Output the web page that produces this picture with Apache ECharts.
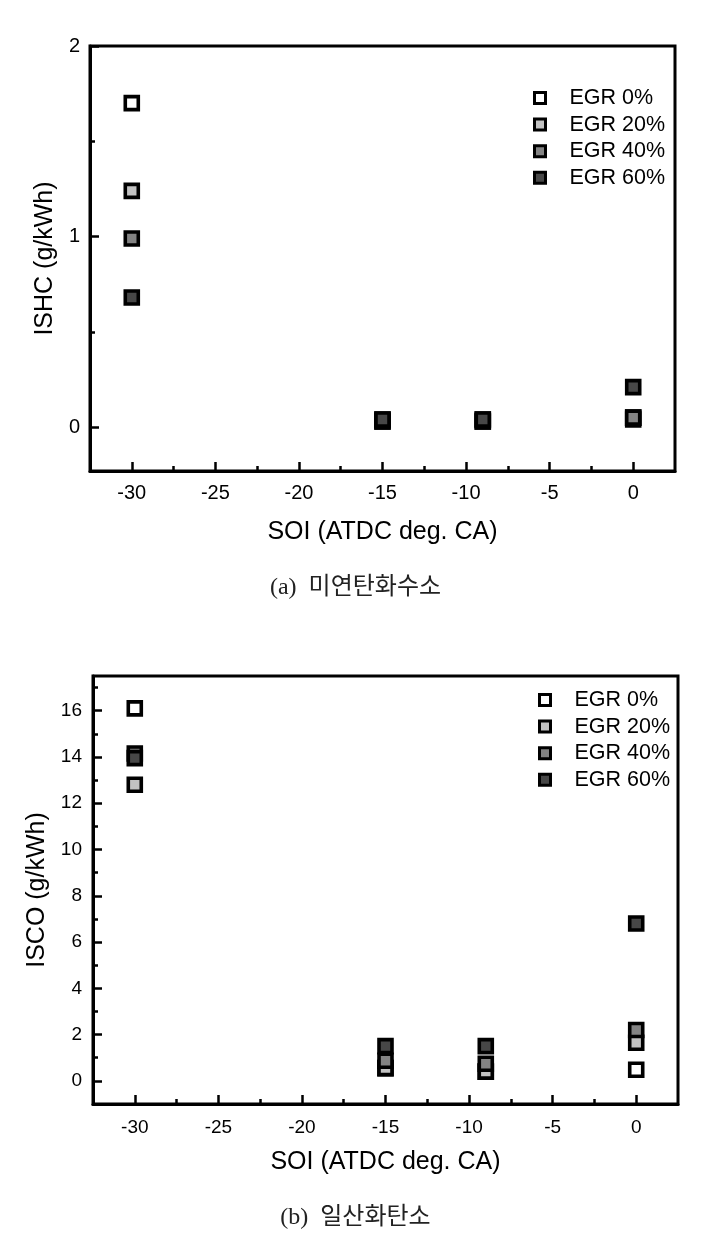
<!DOCTYPE html>
<html>
<head>
<meta charset="utf-8">
<script src="https://cdn.jsdelivr.net/npm/echarts@6/dist/echarts.min.js"></script>
<style>
html,body{margin:0;padding:0;background:#fff;}
#chart{width:711px;height:1244px;}
</style>
</head>
<body>
<div id="chart"></div>
<script>
// ---- data ----
const seriesNames = ['EGR 0%', 'EGR 20%', 'EGR 40%', 'EGR 60%'];
const soi = [-30, -15, -9, 0];
const hcEgr0  = [1.70, 0.03, 0.03, 0.04];
const hcEgr20 = [1.24, 0.03, 0.03, 0.05];
const hcEgr40 = [0.99, 0.04, 0.04, 0.05];
const hcEgr60 = [0.68, 0.04, 0.04, 0.21];
const coEgr0  = [16.1, 0.55, 0.40, 0.48];
const coEgr20 = [12.8, 0.55, 0.40, 1.65];
const coEgr40 = [14.15, 0.87, 0.74, 2.2];
const coEgr60 = [13.95, 1.5, 1.5, 6.8];
const xMajorTicks = [-30, -25, -20, -15, -10, -5, 0];
const xMinorTicks = [-27.5, -22.5, -17.5, -12.5, -7.5, -2.5];
const hcMajorTicks = [0, 1, 2];
const hcMinorTicks = [0.5, 1.5];
const coMajorTicks = [0, 2, 4, 6, 8, 10, 12, 14, 16];
const coMinorTicks = [1, 3, 5, 7, 9, 11, 13, 15, 17];

const fills = ['#ffffff', '#c2c2c2', '#838383', '#474747'];
const FONT = "'Liberation Sans', Arial, sans-serif";

const chart = echarts.init(document.getElementById('chart'), null, {renderer: 'canvas'});

function pairs(xs, ys) { return xs.map((x, i) => [x, ys[i]]); }

function xAxes(gridIndex, labelMargin, nameGap, fs) {
  return [
    {
      gridIndex, type: 'value', min: -32.5, max: 2.5, position: 'bottom',
      name: 'SOI (ATDC deg. CA)', nameLocation: 'middle', nameGap,
      nameTextStyle: {fontFamily: FONT, fontSize: 25, color: '#000'},
      axisLine: {show: true, onZero: false, lineStyle: {color: '#000', width: 3}},
      axisTick: {show: true, inside: true, length: 9, customValues: xMajorTicks, lineStyle: {color: '#000', width: 2.5}},
      axisLabel: {show: true, customValues: xMajorTicks, margin: labelMargin, fontFamily: FONT, fontSize: fs, color: '#000'},
      splitLine: {show: false}
    },
    {
      gridIndex, type: 'value', min: -32.5, max: 2.5, position: 'bottom', offset: 0,
      axisLine: {show: false, onZero: false},
      axisTick: {show: true, inside: true, length: 5, customValues: xMinorTicks, lineStyle: {color: '#000', width: 2.5}},
      axisLabel: {show: false},
      splitLine: {show: false}
    }
  ];
}

function yAxes(gridIndex, min, max, major, minor, name, nameGap, labelMargin, fs) {
  return [
    {
      gridIndex, type: 'value', min, max, position: 'left',
      name, nameLocation: 'middle', nameGap,
      nameTextStyle: {fontFamily: FONT, fontSize: 25, color: '#000'},
      axisLine: {show: true, onZero: false, lineStyle: {color: '#000', width: 3}},
      axisTick: {show: true, inside: true, length: 9, customValues: major, lineStyle: {color: '#000', width: 2.5}},
      axisLabel: {show: true, customValues: major, margin: labelMargin, fontFamily: FONT, fontSize: fs, color: '#000'},
      splitLine: {show: false}
    },
    {
      gridIndex, type: 'value', min, max, position: 'left', offset: 0,
      axisLine: {show: false, onZero: false},
      axisTick: {show: true, inside: true, length: 5, customValues: minor, lineStyle: {color: '#000', width: 2.5}},
      axisLabel: {show: false},
      splitLine: {show: false}
    }
  ];
}

const hcData = [hcEgr0, hcEgr20, hcEgr40, hcEgr60];
const coData = [coEgr0, coEgr20, coEgr40, coEgr60];

const series = [];
hcData.forEach((ys, i) => {
  series.push({
    type: 'scatter', name: seriesNames[i], xAxisIndex: 0, yAxisIndex: 0,
    symbol: 'rect', symbolSize: 13, data: pairs(soi, ys),
    itemStyle: {color: fills[i], borderColor: '#000', borderWidth: 3.6, opacity: 1},
    emphasis: {disabled: true}
  });
});
coData.forEach((ys, i) => {
  series.push({
    type: 'scatter', name: seriesNames[i], xAxisIndex: 2, yAxisIndex: 2,
    symbol: 'rect', symbolSize: 13, data: pairs(soi, ys),
    itemStyle: {color: fills[i], borderColor: '#000', borderWidth: 3.6, opacity: 1},
    emphasis: {disabled: true}
  });
});

function legend(left, top) {
  return {
    orient: 'vertical', left, top,
    data: seriesNames, icon: 'rect', itemWidth: 11, itemHeight: 11, itemGap: 4.6,
    selectedMode: false,
    itemStyle: {borderColor: '#000', borderWidth: 3},
    textStyle: {fontFamily: FONT, fontSize: 21.5, color: '#000', lineHeight: 20.5, padding: [0, 0, 0, 19]}
  };
}

const CAPFONT = "'Liberation Serif', 'DejaVu Serif', 'Noto Sans CJK KR', serif";

const option = {
  animation: false,
  backgroundColor: '#fff',
  grid: [
    {left: 90, top: 46, width: 585, height: 425, show: true, borderColor: '#000', borderWidth: 3, containLabel: false},
    {left: 93, top: 676, width: 585, height: 428, show: true, borderColor: '#000', borderWidth: 3, containLabel: false}
  ],
  xAxis: [...xAxes(0, 12, 49, 20), ...xAxes(1, 14, 46, 19)],
  yAxis: [
    ...yAxes(0, -0.23, 2, hcMajorTicks, hcMinorTicks, 'ISHC (g/kWh)', 32, 10, 20),
    ...yAxes(1, -1, 17.5, coMajorTicks, coMinorTicks, 'ISCO (g/kWh)', 28, 11, 19)
  ],
  legend: [legend(528, 82), legend(533, 684)],
  title: [
    {text: '(a)  미연탄화수소', left: 'center', top: 571,
     textStyle: {fontFamily: CAPFONT, fontSize: 24, fontWeight: 'normal', color: '#222'}},
    {text: '(b)  일산화탄소', left: 'center', top: 1201,
     textStyle: {fontFamily: CAPFONT, fontSize: 24, fontWeight: 'normal', color: '#222'}}
  ],
  series
};
chart.setOption(option);
</script>
</body>
</html>
